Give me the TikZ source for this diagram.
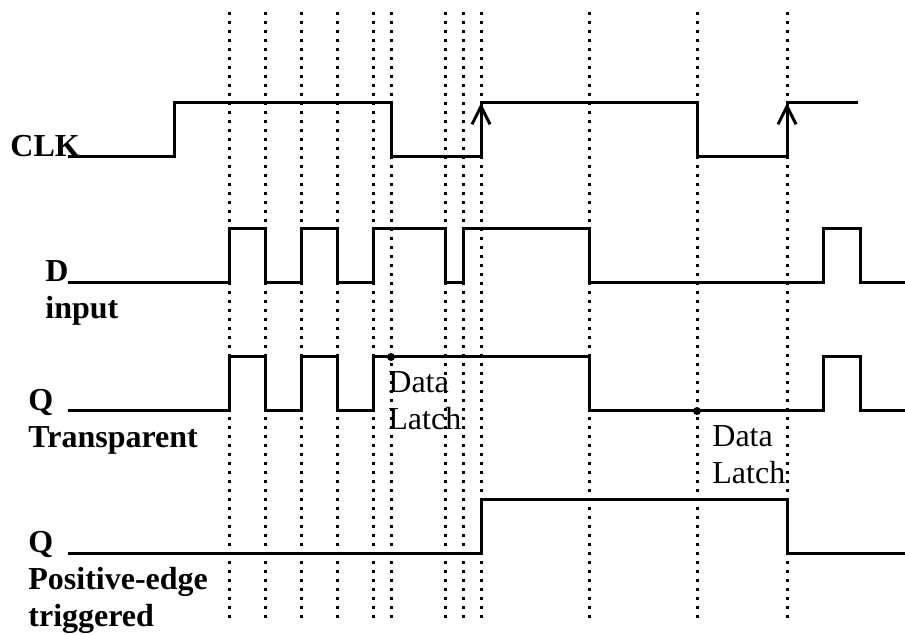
\documentclass[tikz,border=0pt]{standalone}
\usepackage{fontspec}
\setmainfont{Liberation Serif}
\usetikzlibrary{arrows.meta}
\tikzset{wave/.style={line width=1.5pt,line join=miter},
 grid/.style={line width=1.5pt,dash pattern=on 1.5pt off 3pt},
 clkup/.style={line width=1.5pt,-{Straight Barb[length=9pt,width=9pt]}},
 sig/.style={anchor=base west,align=left,inner sep=0pt,font=\fontsize{16}{18.5}\selectfont\bfseries},
 note/.style={anchor=base west,align=left,inner sep=0pt,font=\fontsize{16}{18.5}\selectfont}}

\begin{document}
\begin{tikzpicture}[x=0.5pt,y=-0.5pt]
\useasboundingbox (0,0) rectangle (905,635);
% time marks
\foreach \x in {229,265,301,337,373,391,445,463,481,589,697,787}
  \draw[grid] (\x,12) -- (\x,618);
% signals
\draw[wave] (68,157) -| (174,103) -| (391,157) -| (481,103) -| (697,157) -| (787,103) -- (858,103);
\draw[clkup] (481,157) -- (481,103);
\draw[clkup] (787,157) -- (787,103);
\draw[wave] (68,283) -| (229,229) -| (265,283) -| (301,229) -| (337,283) -| (373,229) -| (445,283)
  -| (463,229) -| (589,283) -| (823,229) -| (860,283) -- (905,283);
\draw[wave] (68,411) -| (229,357) -| (265,411) -| (301,357) -| (337,411) -| (373,357) -| (589,411)
  -| (823,357) -| (860,411) -- (905,411);
\draw[wave] (68,554) -| (481,500) -| (787,554) -- (905,554);
% latch points
\coordinate (la) at (391,357);
\coordinate (lb) at (697,411);
\fill (la) circle[radius=2pt];
\fill (lb) circle[radius=2pt];
\node[note] (latchA) at (388,430) {Data\\Latch};
\node[note] (latchB) at (712,484) {Data\\Latch};
% names
\node[sig] (clk) at (10,157) {CLK};
\node[sig] (d) at (45,319) {D\\input};
\node[sig] (qt) at (28,448) {Q\\Transparent};
\node[sig] (qe) at (28,627) {Q\\Positive-edge\\triggered};
\end{tikzpicture}
\end{document}
